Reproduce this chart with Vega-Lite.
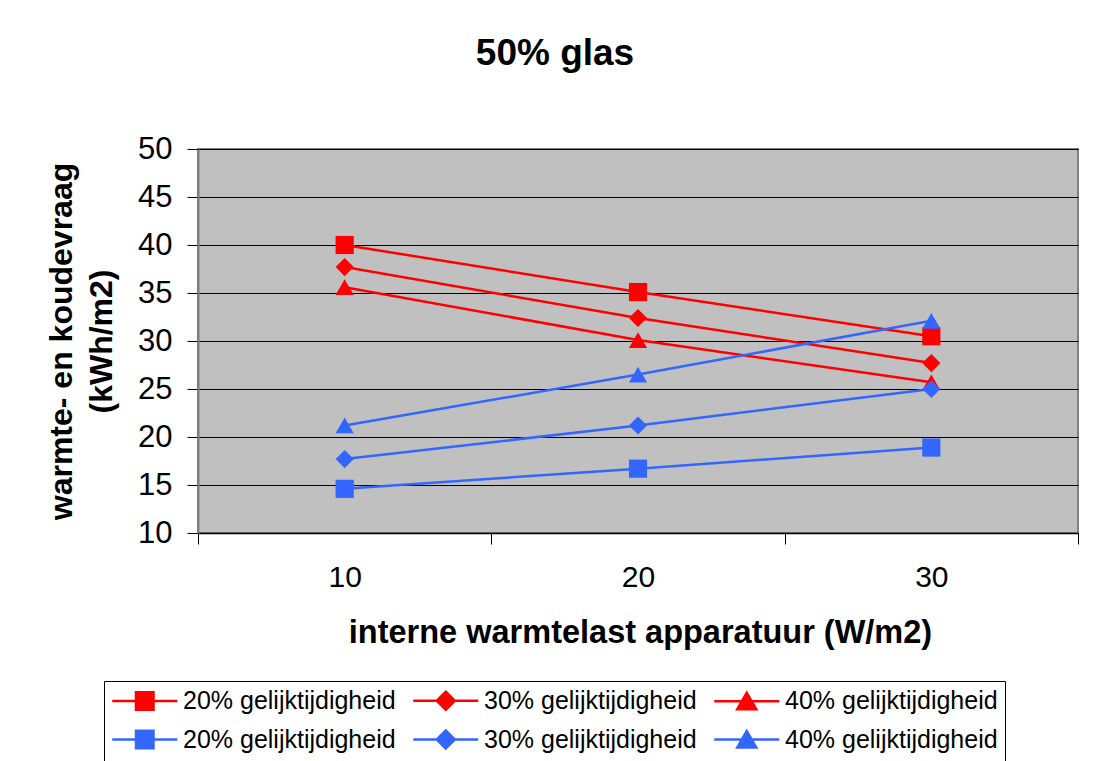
{
  "$schema": "https://vega.github.io/schema/vega-lite/v6.json",
  "width": 880,
  "height": 384,
  "autosize": {"type": "none"},
  "padding": {"left": 198, "top": 149, "right": 15, "bottom": 228},
  "background": "white",
  "config": {
    "view": {"fill": "#C0C0C0", "stroke": "#808080", "strokeWidth": 2},
    "font": "Liberation Sans"
  },
  "title": {
    "text": "50% glas",
    "font": "Liberation Sans",
    "fontSize": 37,
    "fontWeight": "bold",
    "color": "black",
    "anchor": "middle",
    "dx": -83,
    "offset": 31,
    "baseline": "alphabetic"
  },
  "data": {
    "values": [
      {"last": "10", "vraag": 40.0, "serie": "r20"},
      {"last": "20", "vraag": 35.1, "serie": "r20"},
      {"last": "30", "vraag": 30.5, "serie": "r20"},
      {"last": "10", "vraag": 37.7, "serie": "r30"},
      {"last": "20", "vraag": 32.4, "serie": "r30"},
      {"last": "30", "vraag": 27.7, "serie": "r30"},
      {"last": "10", "vraag": 35.6, "serie": "r40"},
      {"last": "20", "vraag": 30.1, "serie": "r40"},
      {"last": "30", "vraag": 25.7, "serie": "r40"},
      {"last": "10", "vraag": 14.6, "serie": "b20"},
      {"last": "20", "vraag": 16.7, "serie": "b20"},
      {"last": "30", "vraag": 18.9, "serie": "b20"},
      {"last": "10", "vraag": 17.7, "serie": "b30"},
      {"last": "20", "vraag": 21.2, "serie": "b30"},
      {"last": "30", "vraag": 25.0, "serie": "b30"},
      {"last": "10", "vraag": 21.2, "serie": "b40"},
      {"last": "20", "vraag": 26.5, "serie": "b40"},
      {"last": "30", "vraag": 32.1, "serie": "b40"}
    ]
  },
  "encoding": {
    "x": {
      "field": "last",
      "type": "nominal",
      "sort": ["10", "20", "30"],
      "scale": {"paddingInner": 0, "paddingOuter": 0},
      "axis": {
        "title": "interne warmtelast apparatuur (W/m2)",
        "titleFont": "Liberation Sans",
        "titleFontSize": 32.5,
        "titleFontWeight": "bold",
        "titleColor": "black",
        "titleX": 442,
        "titleY": 99,
        "titleAlign": "center",
        "titleBaseline": "middle",
        "labelAngle": 0,
        "labelFont": "Liberation Sans",
        "labelFontSize": 30,
        "labelColor": "black",
        "labelPadding": 18,
        "tickSize": 11,
        "tickColor": "black",
        "tickBand": "extent",
        "domainColor": "black",
        "domainWidth": 1.5,
        "grid": false
      }
    },
    "y": {
      "field": "vraag",
      "type": "quantitative",
      "scale": {"domain": [10, 50], "nice": false, "zero": false},
      "axis": {
        "values": [10, 15, 20, 25, 30, 35, 40, 45, 50],
        "title": ["warmte- en koudevraag", "(kWh/m2)"],
        "titleFont": "Liberation Sans",
        "titleFontSize": 32,
        "titleFontWeight": "bold",
        "titleColor": "black",
        "titleAngle": -90,
        "titleX": -137,
        "titleY": 192,
        "titleAlign": "center",
        "titleBaseline": "middle",
        "titleLineHeight": 40,
        "labelFont": "Liberation Sans",
        "labelFontSize": 31,
        "labelColor": "black",
        "labelPadding": 15,
        "labelFlush": false,
        "labelOverlap": false,
        "tickSize": 11,
        "tickColor": "black",
        "grid": true,
        "gridColor": "black",
        "gridWidth": 1,
        "domainColor": "#808080",
        "domainWidth": 2
      }
    }
  },
  "layer": [
    {
      "mark": {"type": "line", "strokeWidth": 2.5},
      "encoding": {
        "color": {
          "field": "serie",
          "type": "nominal",
          "scale": {
            "domain": ["r20", "r30", "r40", "b20", "b30", "b40"],
            "range": ["#FF0000", "#FF0000", "#FF0000", "#3366FF", "#3366FF", "#3366FF"]
          },
          "legend": null
        }
      }
    },
    {
      "mark": {"type": "point", "filled": true, "opacity": 1, "size": 330},
      "encoding": {
        "color": {
          "field": "serie",
          "type": "nominal",
          "scale": {
            "domain": ["r20", "r30", "r40", "b20", "b30", "b40"],
            "range": ["#FF0000", "#FF0000", "#FF0000", "#3366FF", "#3366FF", "#3366FF"]
          },
          "legend": null
        },
        "shape": {
          "field": "serie",
          "type": "nominal",
          "scale": {
            "domain": ["r20", "r30", "r40", "b20", "b30", "b40"],
            "range": ["square", "diamond", "triangle-up", "square", "diamond", "triangle-up"]
          },
          "legend": null
        }
      }
    },
    {
      "mark": {"type": "point", "filled": true, "opacity": 0, "size": 1, "strokeWidth": 2.5},
      "encoding": {
        "color": {
          "field": "serie",
          "type": "nominal",
          "scale": {
            "domain": ["r20", "r30", "r40", "b20", "b30", "b40"],
            "range": ["#FF0000", "#FF0000", "#FF0000", "#3366FF", "#3366FF", "#3366FF"]
          },
          "legend": {
            "title": null,
            "orient": "none",
            "legendX": -94,
            "legendY": 532,
            "direction": "horizontal",
            "columns": 3,
            "columnPadding": 12,
            "rowPadding": 10,
            "padding": 7,
            "strokeColor": "black",
            "fillColor": "white",
            "labelFont": "Liberation Sans",
            "labelFontSize": 25,
            "labelColor": "black",
            "labelLimit": 0,
            "labelOffset": 47,
            "symbolSize": 400,
            "symbolStrokeWidth": 2.5,
            "symbolOpacity": 1,
            "labelExpr": "slice(datum.value, 1) + '% gelijktijdigheid'"
          }
        },
        "stroke": {
          "field": "serie",
          "type": "nominal",
          "scale": {
            "domain": ["r20", "r30", "r40", "b20", "b30", "b40"],
            "range": ["#FF0000", "#FF0000", "#FF0000", "#3366FF", "#3366FF", "#3366FF"]
          },
          "legend": {
            "title": null,
            "orient": "none",
            "legendX": -94,
            "legendY": 532,
            "direction": "horizontal",
            "columns": 3,
            "columnPadding": 12,
            "rowPadding": 10,
            "padding": 7,
            "strokeColor": "black",
            "fillColor": "white",
            "labelFont": "Liberation Sans",
            "labelFontSize": 25,
            "labelColor": "black",
            "labelLimit": 0,
            "labelOffset": 47,
            "symbolSize": 400,
            "symbolStrokeWidth": 2.5,
            "symbolOpacity": 1,
            "labelExpr": "slice(datum.value, 1) + '% gelijktijdigheid'"
          }
        },
        "shape": {
          "field": "serie",
          "type": "nominal",
          "scale": {
            "domain": ["r20", "r30", "r40", "b20", "b30", "b40"],
            "range": [
              "M-1.125,0H5.375M1.25,-0.875H3V0.875H1.25Z",
              "M-1.125,0H5.375M2.125,-0.9L3.025,0L2.125,0.9L1.225,0Z",
              "M-1.125,0H5.375M2.125,-0.85L3.075,0.8H1.175Z",
              "M-1.125,0H5.375M1.25,-0.875H3V0.875H1.25Z",
              "M-1.125,0H5.375M2.125,-0.9L3.025,0L2.125,0.9L1.225,0Z",
              "M-1.125,0H5.375M2.125,-0.85L3.075,0.8H1.175Z"
            ]
          },
          "legend": {
            "title": null,
            "orient": "none",
            "legendX": -94,
            "legendY": 532,
            "direction": "horizontal",
            "columns": 3,
            "columnPadding": 12,
            "rowPadding": 10,
            "padding": 7,
            "strokeColor": "black",
            "fillColor": "white",
            "labelFont": "Liberation Sans",
            "labelFontSize": 25,
            "labelColor": "black",
            "labelLimit": 0,
            "labelOffset": 47,
            "symbolSize": 400,
            "symbolStrokeWidth": 2.5,
            "symbolOpacity": 1,
            "labelExpr": "slice(datum.value, 1) + '% gelijktijdigheid'"
          }
        }
      }
    }
  ],
  "resolve": {"scale": {"shape": "independent", "color": "independent", "stroke": "independent"}}
}
